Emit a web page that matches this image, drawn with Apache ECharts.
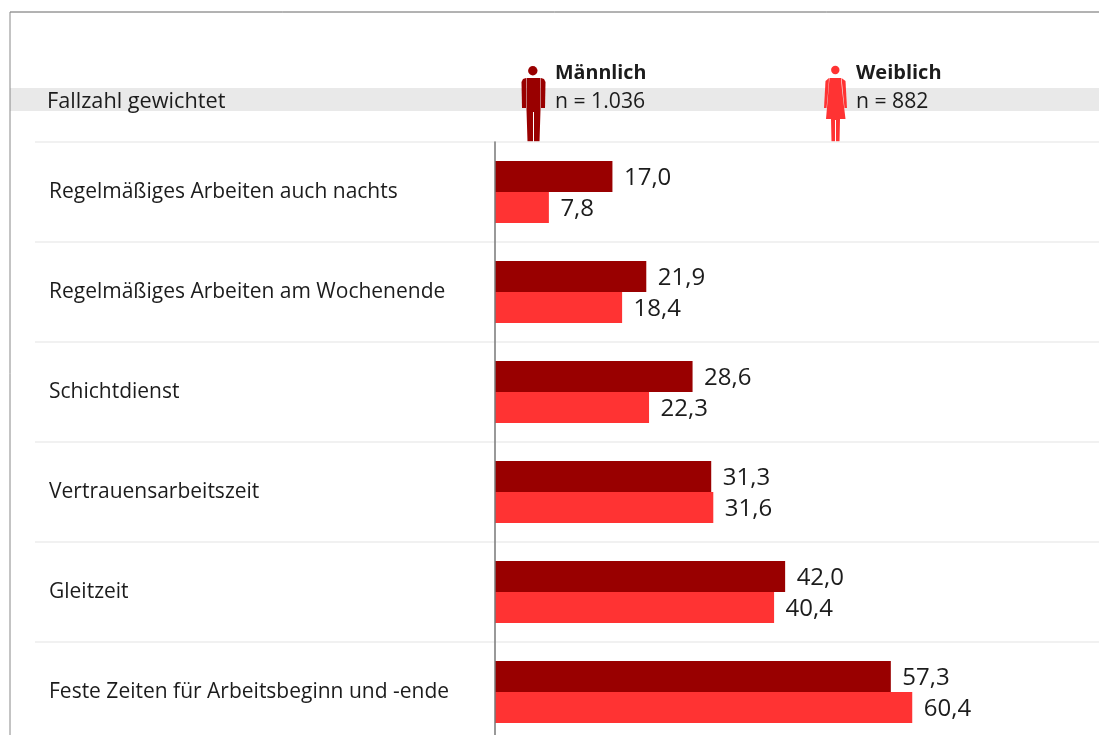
<!DOCTYPE html>
<html>
<head>
<meta charset="utf-8">
<style>html,body{margin:0;padding:0;background:#fff}#c{width:1099px;height:735px}</style>
<script src="https://cdn.jsdelivr.net/npm/echarts@6/dist/echarts.min.js"></script>
</head>
<body>
<div id="c"></div>
<script>
const categories = ['Regelmäßiges Arbeiten auch nachts','Regelmäßiges Arbeiten am Wochenende','Schichtdienst','Vertrauensarbeitszeit','Gleitzeit','Feste Zeiten für Arbeitsbeginn und -ende'];
const maleValues = [17.0,21.9,28.6,31.3,42.0,57.3];
const femaleValues = [7.8,18.4,22.3,31.6,40.4,60.4];
const maleName = 'Männlich', femaleName = 'Weiblich';
const maleCount = 'n = 1.036', femaleCount = 'n = 882', rowTitle = 'Fallzahl gewichtet';

const FONT = '"Open Sans","Noto Sans",sans-serif';
const DARK = '#990000', LIGHT = '#ff3333', INK = '#1c1c1c';
const fmt = p => p.value.toFixed(1).replace('.', ',');
const barLabel = {show:true, position:'right', distance:11.5, offset:[0,1.5], formatter:fmt, color:INK, fontFamily:FONT, fontSize:24};
const txt = (x,y,t,w,size) => ({type:'text', x, y, silent:true, style:{text:t, fill:INK, font:(w?'bold ':'')+size+'px '+FONT, textVerticalAlign:'middle'}});
const poly = (points, fill) => ({type:'polygon', silent:true, shape:{points}, style:{fill}});
const head = (cx, cy, r, fill) => ({type:'circle', silent:true, shape:{cx, cy, r}, style:{fill}});
const manIcon = [
  poly([[526.5,78],[540.5,78],[540.5,110],[539.5,141.7],[534,141.7],[534,112],[533,112],[533,141.7],[527.5,141.7],[526.5,110]], DARK),
  poly([[521.5,82],[523,79],[526,78],[526,108],[522,108]], DARK),
  poly([[541,78],[544,79],[545.5,82],[545,108],[541,108]], DARK),
  head(532.8,70.7,4.7,DARK)
];
const womanIcon = [
  poly([[829.5,78],[841,78],[842,90],[845.5,119],[840,119],[839.5,141.7],[836,141.7],[836,120],[835,120],[835,141.7],[831.5,141.7],[831,119],[826,119],[828.5,90]], LIGHT),
  poly([[829,78],[825.5,81],[824,108],[826.5,108],[828.5,88]], LIGHT),
  poly([[841.5,78],[845.5,81],[847,108],[844.5,108],[842.5,88]], LIGHT),
  head(835.3,70,4.2,LIGHT)
];

const chart = echarts.init(document.getElementById('c'), null, {renderer:'canvas'});
chart.setOption({
  backgroundColor:'#fff',
  animation:false,
  grid:[
    {left:495, top:142, width:601, height:600, outerBoundsMode:'none'},
    {left:35, top:142, width:1064, height:600, outerBoundsMode:'none'}
  ],
  xAxis:[
    {gridIndex:0, type:'value', min:0, max:87, show:false},
    {gridIndex:1, type:'value', min:0, max:1, show:false}
  ],
  yAxis:[
    {gridIndex:0, type:'category', inverse:true, data:categories, z:5, offset:1,
     axisLine:{show:true, lineStyle:{color:'#777', width:1.5}}, axisTick:{show:false}, splitLine:{show:false},
     axisLabel:{align:'left', margin:445, color:INK, fontFamily:FONT, fontSize:21}},
    {gridIndex:1, type:'category', inverse:true, data:categories,
     axisLine:{show:false}, axisTick:{show:false}, axisLabel:{show:false},
     splitLine:{show:true, lineStyle:{color:'#ececec', width:1.5}}}
  ],
  series:[
    {name:maleName, type:'bar', xAxisIndex:0, yAxisIndex:0, data:maleValues, barWidth:31, barGap:0, itemStyle:{color:DARK}, label:barLabel, z:3},
    {name:femaleName, type:'bar', xAxisIndex:0, yAxisIndex:0, data:femaleValues, barWidth:31, barGap:0, itemStyle:{color:LIGHT}, label:barLabel, z:3}
  ],
  graphic:[
    {type:'rect', silent:true, z:-1, shape:{x:10,y:88,width:1089,height:23}, style:{fill:'#e9e9e9'}},
    {type:'line', silent:true, shape:{x1:10,y1:12,x2:1099,y2:12}, style:{stroke:'#666', lineWidth:1}},
    {type:'line', silent:true, shape:{x1:10,y1:12,x2:10,y2:735}, style:{stroke:'#888', lineWidth:1}},
    ...manIcon,
    ...womanIcon,
    txt(47,101.5,rowTitle,false,21.7),
    txt(555,73.5,maleName,true,19.7),
    txt(555,102,maleCount,false,21.2),
    txt(856,73.5,femaleName,true,20),
    txt(856,102,femaleCount,false,21.2)
  ]
});
</script>
</body>
</html>
